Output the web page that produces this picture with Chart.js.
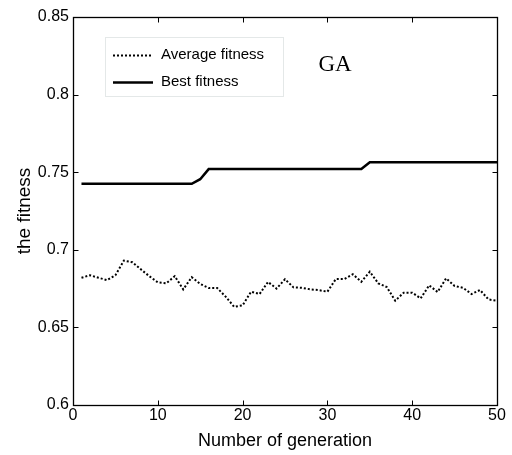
<!DOCTYPE html>
<html>
<head>
<meta charset="utf-8">
<script src="https://cdn.jsdelivr.net/npm/chart.js@4"></script>
<style>
  html, body { margin: 0; padding: 0; background: #fff; }
  #wrap { width: 512px; height: 455px; position: relative; }
</style>
</head>
<body>
<div id="wrap"><canvas id="fitnessChart"></canvas></div>
<script>
// data
const generations = [1, 2, 3, 4, 5, 6, 7, 8, 9, 10,
  11, 12, 13, 14, 15, 16, 17, 18, 19, 20,
  21, 22, 23, 24, 25, 26, 27, 28, 29, 30,
  31, 32, 33, 34, 35, 36, 37, 38, 39, 40,
  41, 42, 43, 44, 45, 46, 47, 48, 49, 50];
const averageFitness = [0.682, 0.6836, 0.682, 0.6805, 0.6836, 0.693, 0.692, 0.6874, 0.683, 0.679,
  0.6784, 0.683, 0.6745, 0.6823, 0.678, 0.6754, 0.6754, 0.6698, 0.6633, 0.6642,
  0.673, 0.6715, 0.6793, 0.675, 0.681, 0.6758, 0.6755, 0.6745, 0.674, 0.673,
  0.6812, 0.6812, 0.6842, 0.6794, 0.6859, 0.6784, 0.676, 0.6672, 0.6724, 0.6724,
  0.6687, 0.6771, 0.6728, 0.6816, 0.6767, 0.6755, 0.6715, 0.6741, 0.668, 0.6672];
const bestFitness = [0.7425, 0.7425, 0.7425, 0.7425, 0.7425, 0.7425, 0.7425, 0.7425, 0.7425, 0.7425,
  0.7425, 0.7425, 0.7425, 0.7425, 0.7455, 0.752, 0.752, 0.752, 0.752, 0.752,
  0.752, 0.752, 0.752, 0.752, 0.752, 0.752, 0.752, 0.752, 0.752, 0.752,
  0.752, 0.752, 0.752, 0.752, 0.7564, 0.7564, 0.7564, 0.7564, 0.7564, 0.7564,
  0.7564, 0.7564, 0.7564, 0.7564, 0.7564, 0.7564, 0.7564, 0.7564, 0.7564, 0.7564];
const xTicks = [0, 10, 20, 30, 40, 50];
const yTicks = [0.6, 0.65, 0.7, 0.75, 0.8, 0.85];
const yTickLabels = ['0.6', '0.65', '0.7', '0.75', '0.8', '0.85'];
const seriesLabels = ['Average fitness', 'Best fitness'];

const sansFont = '"Liberation Sans", Arial, Helvetica, sans-serif';

// 枠線と内向きの目盛り、凡例、GAの文字
const boxPlugin = {
  id: 'matlabBox',
  afterDraw(chart) {
    const ctx = chart.ctx;
    const a = chart.chartArea;
    const xs = chart.scales.x;
    const ys = chart.scales.y;
    const L = Math.round(a.left) + 0.5, R = Math.round(a.right) + 0.5;
    const T = Math.round(a.top) + 0.5, B = Math.round(a.bottom) + 0.5;
    ctx.save();
    ctx.strokeStyle = '#000';
    ctx.lineWidth = 1.3;
    ctx.setLineDash([]);
    ctx.strokeRect(L, T, R - L, B - T);
    const len = 5;
    ctx.lineWidth = 1;
    ctx.beginPath();
    xTicks.forEach(v => {
      const px = Math.round(xs.getPixelForValue(v)) + 0.5;
      ctx.moveTo(px, B); ctx.lineTo(px, B - len);
      ctx.moveTo(px, T); ctx.lineTo(px, T + len);
    });
    yTicks.forEach(v => {
      const py = Math.round(ys.getPixelForValue(v)) + 0.5;
      ctx.moveTo(L, py); ctx.lineTo(L + len, py);
      ctx.moveTo(R, py); ctx.lineTo(R - len, py);
    });
    ctx.stroke();

    // 凡例
    ctx.fillStyle = '#fff';
    ctx.fillRect(105, 37, 178, 59);
    ctx.strokeStyle = '#e4e8e8';
    ctx.strokeRect(105.5, 37.5, 178, 59);
    const rows = [55, 82];
    chart.data.datasets.forEach((ds, i) => {
      ctx.strokeStyle = '#000';
      ctx.lineWidth = ds.borderWidth;
      ctx.setLineDash(ds.borderDash || []);
      ctx.beginPath();
      ctx.moveTo(113, rows[i] + 0.5);
      ctx.lineTo(153, rows[i] + 0.5);
      ctx.stroke();
      ctx.setLineDash([]);
      ctx.fillStyle = '#000';
      ctx.font = '15px ' + sansFont;
      ctx.textBaseline = 'middle';
      ctx.textAlign = 'left';
      ctx.fillText(ds.label, 161, rows[i]);
    });

    ctx.font = '23px "Liberation Serif", "Times New Roman", serif';
    ctx.textAlign = 'center';
    ctx.textBaseline = 'middle';
    ctx.fillText('GA', 335, 65);
    ctx.restore();
  }
};

const ctx = document.getElementById('fitnessChart').getContext('2d');
new Chart(ctx, {
  type: 'line',
  data: {
    datasets: [
      {
        label: seriesLabels[0],
        data: generations.map((g, i) => ({ x: g, y: averageFitness[i] })),
        borderColor: '#000',
        borderWidth: 2,
        borderDash: [2, 2],
        pointRadius: 0,
        tension: 0,
        fill: false
      },
      {
        label: seriesLabels[1],
        data: generations.map((g, i) => ({ x: g, y: bestFitness[i] })),
        borderColor: '#000',
        borderWidth: 2.5,
        pointRadius: 0,
        tension: 0,
        fill: false
      }
    ]
  },
  options: {
    responsive: true,
    maintainAspectRatio: false,
    animation: false,
    devicePixelRatio: 1,
    layout: { padding: { top: 17, right: 15, left: 0, bottom: 0 } },
    plugins: {
      legend: { display: false },
      tooltip: { enabled: false }
    },
    scales: {
      x: {
        type: 'linear',
        min: 0,
        max: 50,
        afterBuildTicks: scale => { scale.ticks = xTicks.map(v => ({ value: v })); },
        afterFit: scale => { scale.height = 50; },
        grid: { display: false, drawTicks: false },
        border: { display: false },
        ticks: {
          color: '#000',
          padding: 1,
          maxRotation: 0,
          font: { family: sansFont, size: 16 },
          callback: v => String(v)
        },
        title: {
          display: true,
          text: 'Number of generation',
          color: '#000',
          font: { family: sansFont, size: 18 },
          padding: { top: 0, bottom: 3 }
        }
      },
      y: {
        min: 0.6,
        max: 0.85,
        afterBuildTicks: scale => { scale.ticks = yTicks.map(v => ({ value: v })); },
        afterFit: scale => { scale.width = 73; },
        grid: { display: false, drawTicks: false },
        border: { display: false },
        ticks: {
          color: '#000',
          padding: 4,
          font: { family: sansFont, size: 16 },
          callback: v => yTickLabels[yTicks.findIndex(t => Math.abs(t - v) < 1e-9)]
        },
        title: {
          display: true,
          text: 'the fitness',
          color: '#000',
          font: { family: sansFont, size: 19 },
          padding: { top: 13, bottom: 0 }
        }
      }
    }
  },
  plugins: [boxPlugin]
});
</script>
</body>
</html>
